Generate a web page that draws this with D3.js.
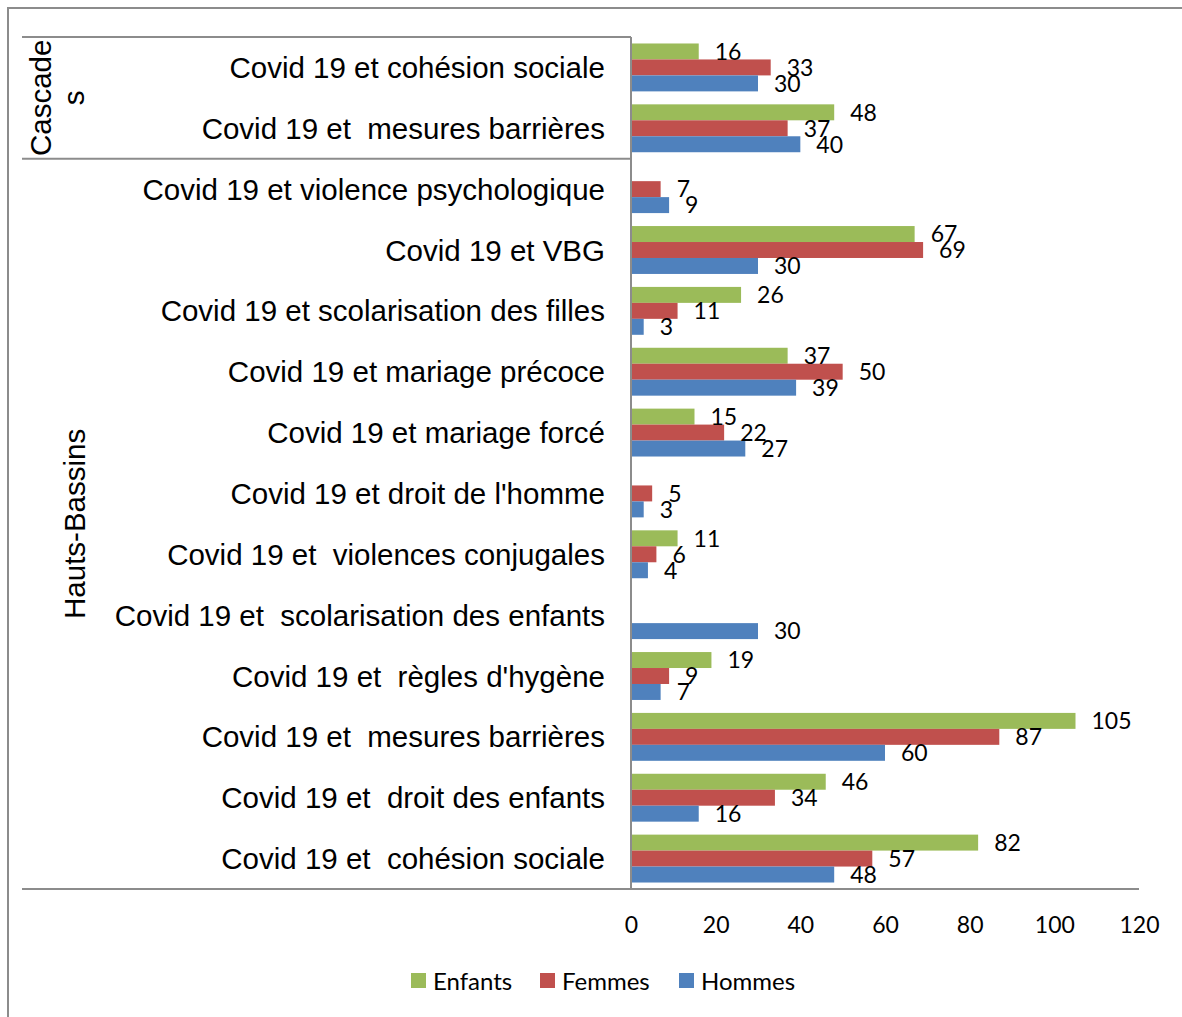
<!DOCTYPE html>
<html>
<head>
<meta charset="utf-8">
<script src="https://cdn.jsdelivr.net/npm/d3@7"></script>
<style>
  body { margin: 0; background: #fff; }
  svg { display: block; }
  .cat { font-family: "Liberation Sans", Arial, sans-serif; font-size: 29.5px; white-space: pre; }
  .num { font-family: Lato, "Open Sans", sans-serif; font-size: 23px; }
</style>
</head>
<body>
<svg id="chart" width="1182" height="1017"></svg>
<script>
// categories, top to bottom
const categories = [
  "Covid 19 et cohésion sociale",
  "Covid 19 et  mesures barrières",
  "Covid 19 et violence psychologique",
  "Covid 19 et VBG",
  "Covid 19 et scolarisation des filles",
  "Covid 19 et mariage précoce",
  "Covid 19 et mariage forcé",
  "Covid 19 et droit de l'homme",
  "Covid 19 et  violences conjugales",
  "Covid 19 et  scolarisation des enfants",
  "Covid 19 et  règles d'hygène",
  "Covid 19 et  mesures barrières",
  "Covid 19 et  droit des enfants",
  "Covid 19 et  cohésion sociale"
];
const enfants = [16, 48, null, 67, 26, 37, 15, null, 11, null, 19, 105, 46, 82];
const femmes  = [33, 37, 7, 69, 11, 50, 22, 5, 6, null, 9, 87, 34, 57];
const hommes  = [30, 40, 9, 30, 3, 39, 27, 3, 4, 30, 7, 60, 16, 48];

const seriesNames = ["Enfants", "Femmes", "Hommes"];
const seriesColors = ["#9BBB59", "#C0504D", "#4F81BD"];

// region groups (lines of the rotated label, number of rows)
const groupLabels = [["Cascade", "s"], ["Hauts-Bassins"]];
const groupSizes = [2, 12];

const xTicks = [0, 20, 40, 60, 80, 100, 120];

const svg = d3.select("#chart");
const plotL = 631, plotR = 1139, plotT = 37, plotB = 889;
const lineColor = "#8c8c8c";

// outer frame
svg.append("rect")
  .attr("x", 8).attr("y", 8)
  .attr("width", 1200).attr("height", 1100)
  .attr("fill", "none").attr("stroke", lineColor).attr("stroke-width", 2);

const x = d3.scaleLinear().domain([0, 120]).range([plotL, plotR]);
const y = d3.scaleBand().domain(d3.range(categories.length)).range([plotT, plotB])
  .paddingInner(0.213).paddingOuter(0.1065);
const ySub = d3.scaleBand().domain(seriesNames).range([0, y.bandwidth()]);
const yRow = d3.scaleBand().domain(d3.range(categories.length)).range([plotT, plotB]);

const rows = categories.map((c, i) => ({
  i, cat: c,
  vals: [enfants[i], femmes[i], hommes[i]]
}));

// bars
const g = svg.append("g");
const bars = g.selectAll("g.row")
  .data(rows)
  .enter().append("g")
  .attr("class", "row")
  .attr("transform", d => `translate(0,${y(d.i)})`);

bars.selectAll("rect")
  .data(d => d.vals.map((v, k) => ({ v, k })).filter(e => e.v != null))
  .enter().append("rect")
  .attr("x", x(0))
  .attr("y", e => ySub(seriesNames[e.k]))
  .attr("width", e => x(e.v) - x(0))
  .attr("height", ySub.bandwidth())
  .attr("fill", e => seriesColors[e.k]);

bars.selectAll("text")
  .data(d => d.vals.map((v, k) => ({ v, k })).filter(e => e.v != null))
  .enter().append("text")
  .attr("class", "num")
  .attr("x", e => x(e.v) + 16)
  .attr("y", e => ySub(seriesNames[e.k]) + ySub.bandwidth() / 2)
  .attr("dy", "0.36em")
  .text(e => e.v);

// category labels
svg.selectAll("text.cat")
  .data(rows)
  .enter().append("text")
  .attr("class", "cat")
  .attr("x", 605)
  .attr("y", d => yRow(d.i) + yRow.bandwidth() / 2)
  .attr("dy", "0.36em")
  .attr("text-anchor", "end")
  .text(d => d.cat);

// x axis labels
const xAxis = d3.axisBottom(x).tickValues(xTicks).tickSize(0).tickPadding(0);
const ax = svg.append("g").attr("transform", `translate(0,${plotB})`).call(xAxis);
ax.select(".domain").remove();
ax.attr("font-size", null).attr("font-family", null);
ax.selectAll("text")
  .attr("class", "num")
  .attr("fill", "#000")
  .attr("y", 36).attr("dy", "0.36em");

// group separator lines and labels
let acc = 0;
const bounds = [0];
groupSizes.forEach(n => { acc += n; bounds.push(acc); });
bounds.forEach((b, j) => {
  const yy = b < categories.length ? yRow(b) : plotB;
  svg.append("line")
    .attr("x1", 22).attr("x2", j === bounds.length - 1 ? plotR : plotL)
    .attr("y1", yy).attr("y2", yy)
    .attr("stroke", lineColor).attr("stroke-width", 2);
});
svg.append("line")
  .attr("x1", plotL).attr("x2", plotL).attr("y1", plotT).attr("y2", plotB)
  .attr("stroke", lineColor).attr("stroke-width", 2);

groupLabels.forEach((lines, j) => {
  const y0 = yRow(bounds[j]);
  const y1 = bounds[j + 1] < categories.length ? yRow(bounds[j + 1]) : plotB;
  const cy = (y0 + y1) / 2;
  const cx = lines.length > 1 ? 57 : 74;
  const t = svg.append("text")
    .attr("class", "cat")
    .attr("text-anchor", "middle")
    .attr("transform", `translate(${cx},${cy}) rotate(-90)`);
  lines.forEach((ln, k) => {
    t.append("tspan")
      .attr("x", 0)
      .attr("y", (k - (lines.length - 1) / 2) * 33)
      .attr("dy", "0.36em")
      .text(ln);
  });
});

// legend
const legend = svg.append("g").attr("transform", "translate(411,981)");
const legendX = [0, 129, 268];
seriesNames.forEach((s, k) => {
  const lg = legend.append("g").attr("transform", `translate(${legendX[k]},0)`);
  lg.append("rect").attr("x", 0).attr("y", -8).attr("width", 15).attr("height", 15)
    .attr("fill", seriesColors[k]);
  lg.append("text").attr("class", "num").attr("x", 22).attr("y", 0)
    .attr("dy", "0.36em").style("font-size", "24px").text(s);
});
</script>
</body>
</html>
